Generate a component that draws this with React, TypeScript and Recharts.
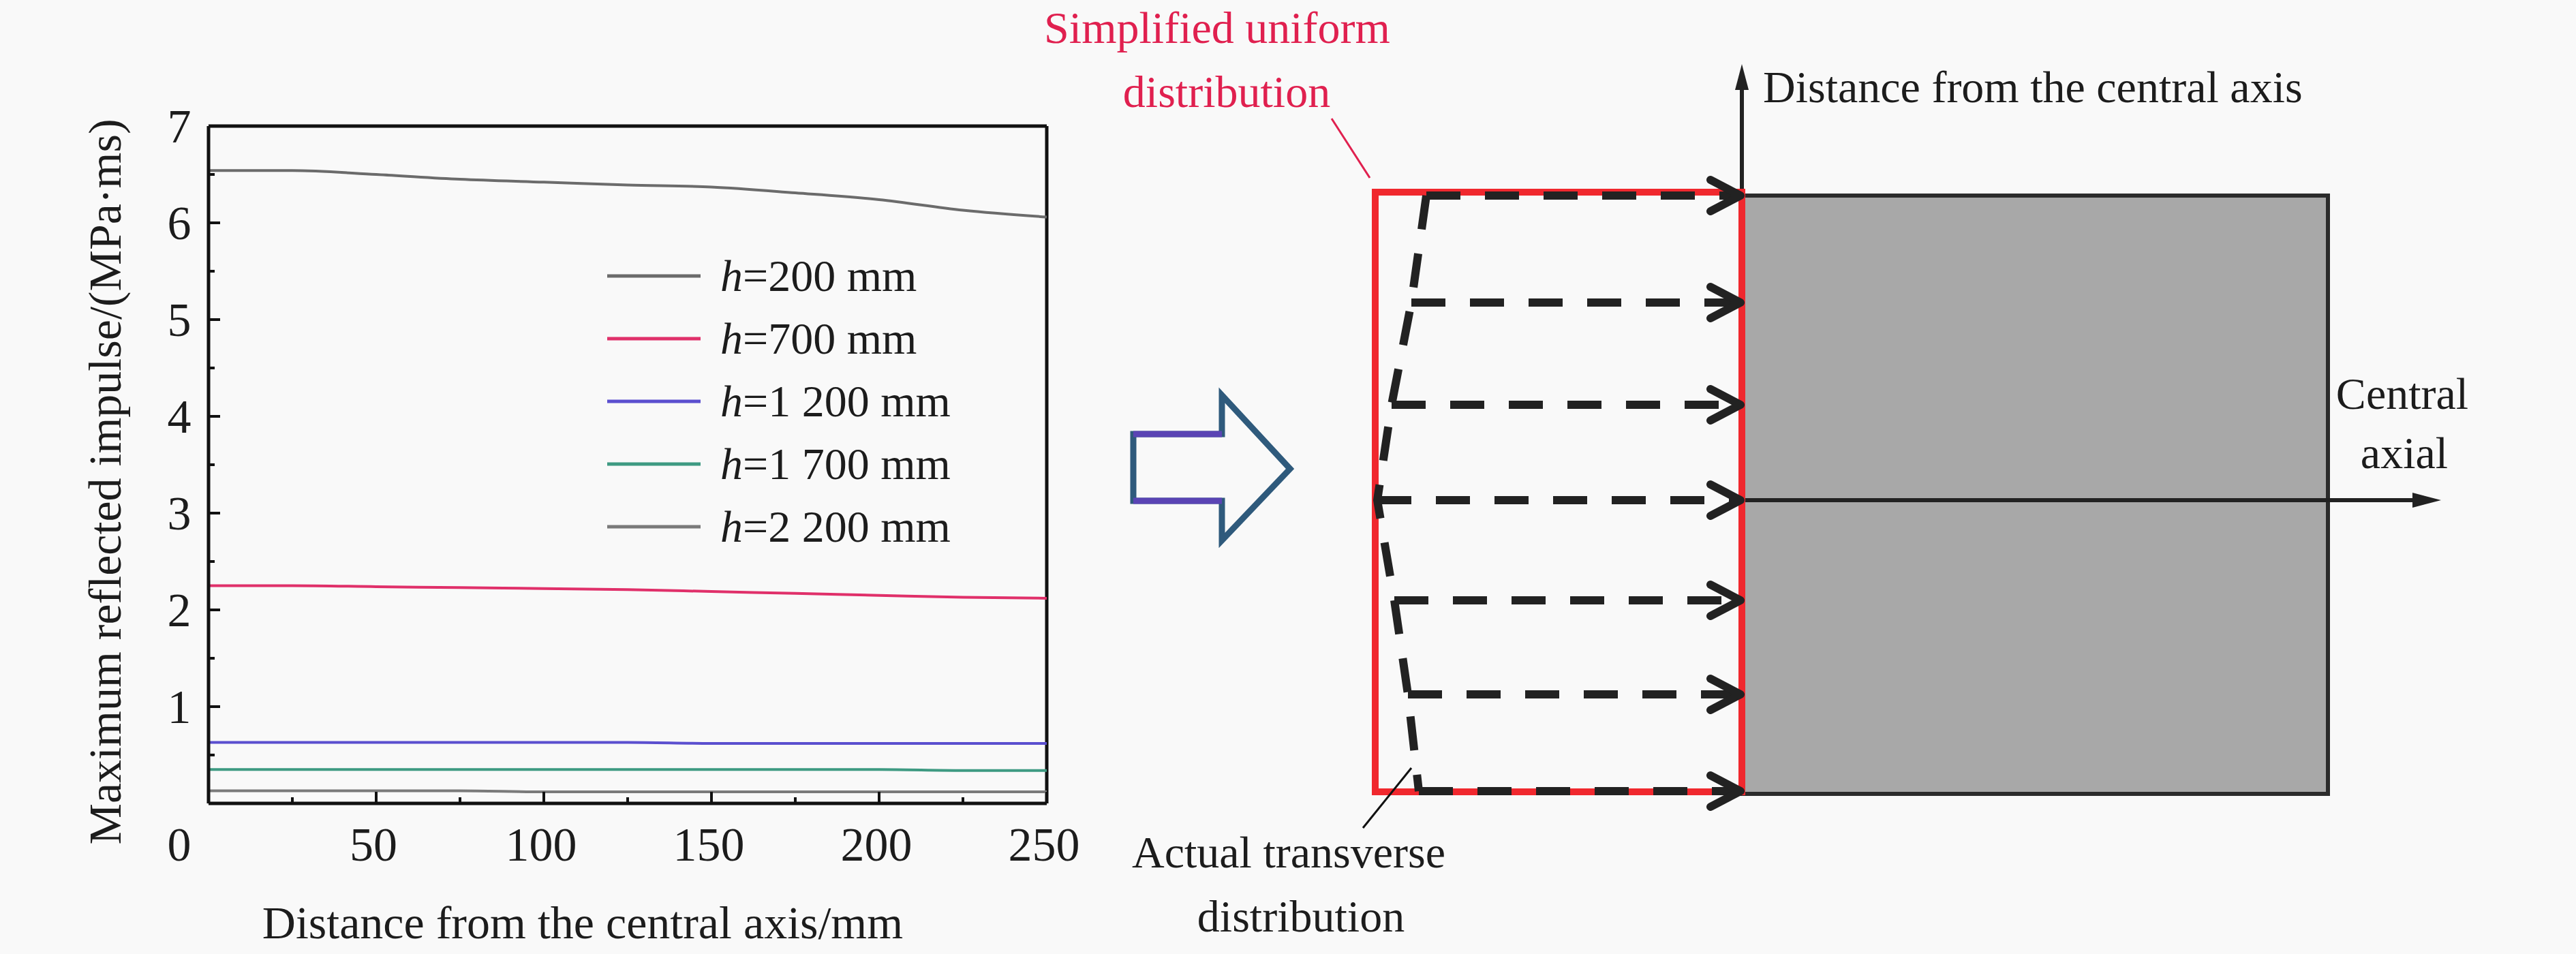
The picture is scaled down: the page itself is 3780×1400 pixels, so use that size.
import React from 'react';
import { LineChart, Line, XAxis, YAxis, Legend, ReferenceLine } from 'recharts';

const FONT = '"Liberation Serif", "Times New Roman", serif';
const BG = '#f9f9f9';
const INK = '#1c1c1c';

// distance from the central axis (mm)
const distance = [0, 25, 50, 75, 100, 125, 150, 175, 200, 225, 250];
// maximum reflected impulse (MPa·ms), one array per charge height
const h200 = [6.54, 6.54, 6.5, 6.45, 6.42, 6.39, 6.37, 6.31, 6.24, 6.13, 6.06];
const h700 = [2.25, 2.25, 2.24, 2.23, 2.22, 2.21, 2.19, 2.17, 2.15, 2.13, 2.12];
const h1200 = [0.63, 0.63, 0.63, 0.63, 0.63, 0.63, 0.62, 0.62, 0.62, 0.62, 0.62];
const h1700 = [0.35, 0.35, 0.35, 0.35, 0.35, 0.35, 0.35, 0.35, 0.35, 0.34, 0.34];
const h2200 = [0.13, 0.13, 0.13, 0.13, 0.12, 0.12, 0.12, 0.12, 0.12, 0.12, 0.12];

const seriesNames = ['h=200 mm', 'h=700 mm', 'h=1 200 mm', 'h=1 700 mm', 'h=2 200 mm'];
const seriesColors = ['#6b6b6b', '#e0306a', '#5b4fcf', '#3e9a82', '#7a7a7a'];

const xTicks = [0, 25, 50, 75, 100, 125, 150, 175, 200, 225, 250];
const yTicks = [0, 0.5, 1, 1.5, 2, 2.5, 3, 3.5, 4, 4.5, 5, 5.5, 6, 6.5, 7];

const data = distance.map((d, i) => ({
  d,
  s0: h200[i],
  s1: h700[i],
  s2: h1200[i],
  s3: h1700[i],
  s4: h2200[i],
}));

// ticks point into the plot, minor ones shorter, labels only on majors
const XTick = (props: any) => {
  const { x, y, payload } = props;
  const v = payload.value;
  const major = v % 50 === 0;
  return (
    <g>
      <line x1={x} y1={y} x2={x} y2={y - (major ? 17 : 9)} stroke="#111" strokeWidth={4} />
      {major && (
        <text x={v === 0 ? x - 43 : x - 4} y={y + 84} textAnchor="middle" fontFamily={FONT} fontSize={70} fill={INK}>
          {v}
        </text>
      )}
    </g>
  );
};

const YTick = (props: any) => {
  const { x, y, payload } = props;
  const v = payload.value;
  const major = Number.isInteger(v);
  return (
    <g>
      <line x1={x} y1={y} x2={x + (major ? 17 : 9)} y2={y} stroke="#111" strokeWidth={4} />
      {major && v !== 0 && (
        <text x={x - 43} y={y + 24} textAnchor="middle" fontFamily={FONT} fontSize={70} fill={INK}>
          {v}
        </text>
      )}
    </g>
  );
};

// legend keeps the series order (not sorted)
const LegendBox = () => (
  <div style={{ fontFamily: FONT, fontSize: 66, color: INK }}>
    {seriesNames.map((name, i) => {
      const [h, rest] = name.split('=');
      return (
        <div key={name} style={{ display: 'flex', alignItems: 'center', height: 92, whiteSpace: 'nowrap' }}>
          <svg width={137} height={8} style={{ display: 'block' }}>
            <line x1={0} y1={4} x2={137} y2={4} stroke={seriesColors[i]} strokeWidth={5} />
          </svg>
          <span style={{ marginLeft: 29, lineHeight: '92px' }}>
            <i>{h}</i>={rest}
          </span>
        </div>
      );
    })}
  </div>
);

// start points of the dashed arrows = the actual transverse distribution
const arrowRows = [287, 444, 594, 734, 881, 1019, 1161];
const arrowStarts = [2093, 2071, 2042, 2021, 2046, 2066, 2082];

const Schematic = () => {
  const wallX = 2556;
  const dash = { stroke: '#222', strokeWidth: 12, strokeDasharray: '50 36', fill: 'none' };
  const txt = { fontFamily: FONT, fontSize: 66, fill: INK };
  return (
    <svg width={3780} height={1400} style={{ position: 'absolute', left: 0, top: 0, pointerEvents: 'none' }}>
      {/* target block */}
      <rect x={wallX} y={287} width={860} height={878} fill="#a8a8a8" stroke="#2b2b2b" strokeWidth={6} />

      {/* axes of the sketch */}
      <line x1={wallX} y1={287} x2={wallX} y2={120} stroke="#222" strokeWidth={6} />
      <polygon points={`${wallX},94 ${wallX - 10},132 ${wallX + 10},132`} fill="#222" />
      <line x1={wallX} y1={734} x2={3545} y2={734} stroke="#222" strokeWidth={6} />
      <polygon points={`3582,734 3540,723 3540,745`} fill="#222" />

      {/* simplified uniform distribution */}
      <rect x={2018} y={282} width={wallX - 2018} height={880} fill="none" stroke="#f0282e" strokeWidth={10} />

      {/* actual transverse distribution */}
      <polyline points={arrowRows.map((y, i) => `${arrowStarts[i]},${y}`).join(' ')} {...dash} />
      {arrowRows.map((y, i) => (
        <g key={y}>
          <line x1={arrowStarts[i]} y1={y} x2={wallX - 8} y2={y} {...dash} />
          <polyline
            points={`${wallX - 46},${y - 23} ${wallX - 2},${y} ${wallX - 46},${y + 23}`}
            fill="none"
            stroke="#222"
            strokeWidth={12}
            strokeLinecap="round"
            strokeLinejoin="round"
          />
        </g>
      ))}

      {/* big outline arrow */}
      <polygon
        points="1663,637 1793,637 1793,580 1893,688 1793,793 1793,735 1663,735"
        fill="none"
        stroke="#2f5a7c"
        strokeWidth={9}
        strokeLinejoin="miter"
      />
      <line x1={1663} y1={637} x2={1793} y2={637} stroke="#5a44b4" strokeWidth={9} />
      <line x1={1663} y1={735} x2={1793} y2={735} stroke="#5a44b4" strokeWidth={9} />

      {/* labels */}
      <text x={1786} y={63} textAnchor="middle" {...txt} fill="#e0204f">Simplified uniform</text>
      <text x={1800} y={157} textAnchor="middle" {...txt} fill="#e0204f">distribution</text>
      <line x1={1954} y1={174} x2={2010} y2={261} stroke="#e0204f" strokeWidth={3} />

      <text x={1891} y={1273} textAnchor="middle" {...txt}>Actual transverse</text>
      <text x={1909} y={1367} textAnchor="middle" {...txt}>distribution</text>
      <line x1={2000} y1={1215} x2={2071} y2={1127} stroke="#111" strokeWidth={3} />

      <text x={2587} y={150} {...txt}>Distance from the central axis</text>
      <text x={3525} y={600} textAnchor="middle" {...txt}>Central</text>
      <text x={3528} y={687} textAnchor="middle" {...txt}>axial</text>
    </svg>
  );
};

export default function App() {
  return (
    <div style={{ position: 'absolute', left: 0, top: 0, width: 3780, height: 1400, background: BG, overflow: 'hidden' }}>
      <div style={{ position: 'absolute', left: 0, top: 0 }}>
        <LineChart width={1600} height={1400} data={data} margin={{ top: 185, right: 64, bottom: 71, left: 156 }}>
          <XAxis
            dataKey="d"
            type="number"
            domain={[0, 250]}
            ticks={xTicks}
            interval={0}
            height={150}
            tickSize={0}
            tickMargin={0}
            tickLine={false}
            axisLine={{ stroke: '#111', strokeWidth: 5 }}
            tick={(p: any) => <XTick {...p} />}
            label={{
              content: () => (
                <text x={855} y={1377} textAnchor="middle" fontFamily={FONT} fontSize={68} fill={INK}>
                  Distance from the central axis/mm
                </text>
              ),
            }}
          />
          <YAxis
            type="number"
            domain={[0, 7]}
            ticks={yTicks}
            interval={0}
            width={150}
            tickSize={0}
            tickMargin={0}
            tickLine={false}
            axisLine={{ stroke: '#111', strokeWidth: 5 }}
            tick={(p: any) => <YTick {...p} />}
            label={{
              content: () => (
                <text
                  x={177}
                  y={707}
                  textAnchor="middle"
                  transform="rotate(-90 177 707)"
                  fontFamily={FONT}
                  fontSize={68}
                  fill={INK}
                >
                  Maximum reflected impulse/(MPa·ms)
                </text>
              ),
            }}
          />
          <ReferenceLine y={7} stroke="#111" strokeWidth={5} />
          <ReferenceLine x={250} stroke="#111" strokeWidth={5} />
          {seriesNames.map((name, i) => (
            <Line
              key={name}
              type="monotone"
              dataKey={`s${i}`}
              name={name}
              stroke={seriesColors[i]}
              strokeWidth={4}
              dot={false}
              activeDot={false}
              isAnimationActive={false}
            />
          ))}
          <Legend
            layout="vertical"
            align="center"
            verticalAlign="middle"
            content={() => <LegendBox />}
            wrapperStyle={{ left: 891, top: 359, width: 700, height: 460 }}
          />
        </LineChart>
      </div>
      <Schematic />
    </div>
  );
}
